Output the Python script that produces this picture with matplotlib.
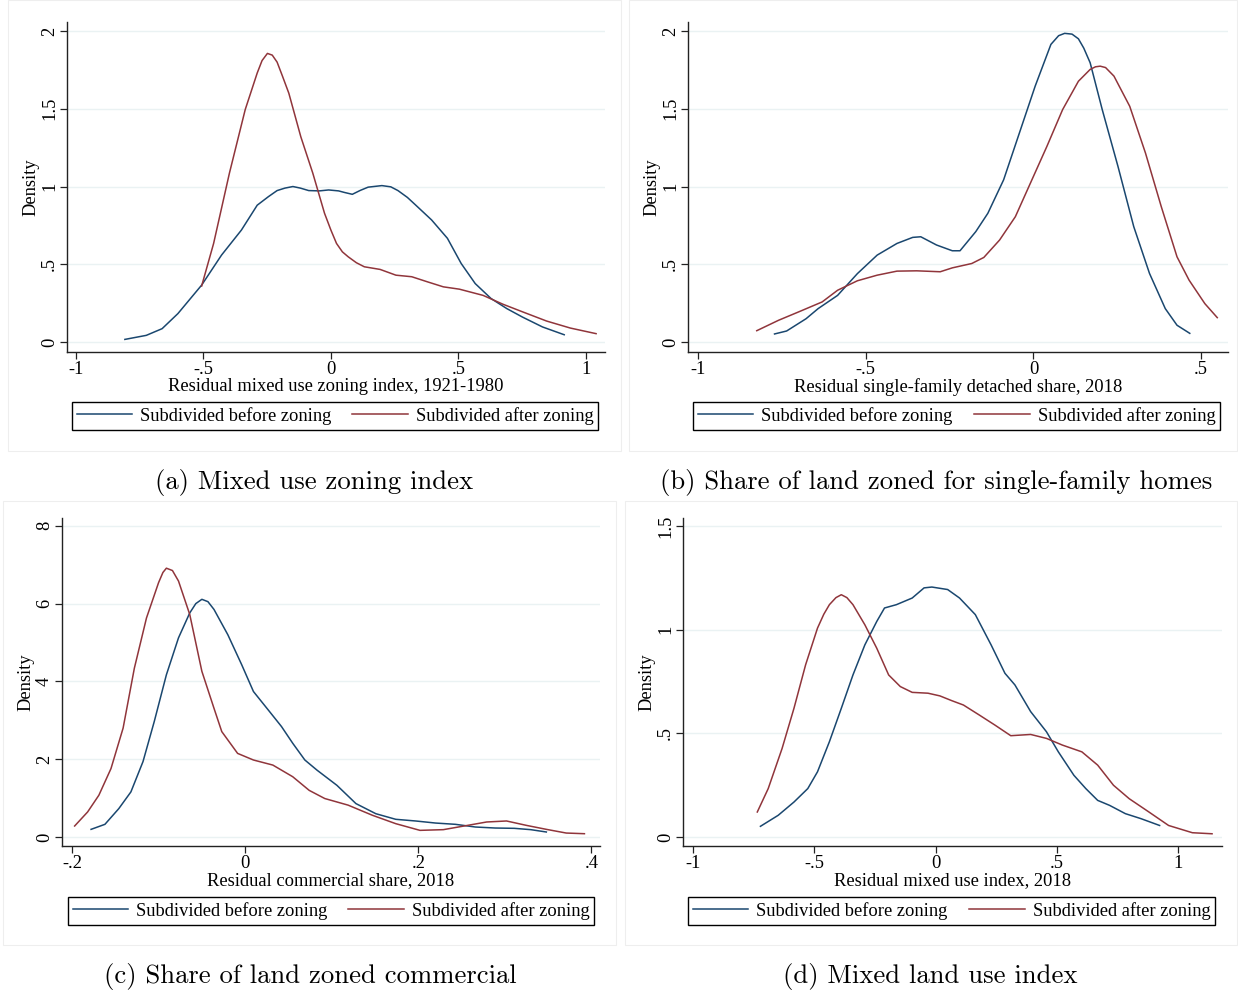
import matplotlib.pyplot as plt
from matplotlib.patches import Rectangle
from matplotlib.lines import Line2D

# kernel density curves, (x, density) pairs per group
a_before_x = [-0.808, -0.724, -0.662, -0.60, -0.507, -0.429, -0.351, -0.289, -0.245, -0.211, -0.18, -0.149,
              -0.12, -0.087, -0.045, -0.009, 0.03, 0.053, 0.084, 0.115, 0.146, 0.20, 0.235, 0.263, 0.30, 0.333,
              0.395, 0.457, 0.511, 0.566, 0.628, 0.69, 0.752, 0.83, 0.915]
a_before_y = [0.017, 0.043, 0.086, 0.183, 0.366, 0.559, 0.72, 0.88, 0.935, 0.974, 0.99, 1.0,
              0.99, 0.974, 0.972, 0.978, 0.972, 0.962, 0.95, 0.975, 0.996, 1.006, 0.998, 0.974, 0.93, 0.88,
              0.785, 0.667, 0.505, 0.376, 0.28, 0.215, 0.16, 0.097, 0.047]
a_after_x = [-0.507, -0.46, -0.398, -0.336, -0.305, -0.289, -0.27, -0.249, -0.23, -0.211, -0.19, -0.165,
             -0.118, -0.071, -0.025, 0.0, 0.022, 0.045, 0.068, 0.10, 0.131, 0.193, 0.255, 0.317, 0.379,
             0.441, 0.504, 0.597, 0.675, 0.752, 0.846, 0.939, 1.04]
a_after_y = [0.36, 0.634, 1.086, 1.495, 1.65, 1.73, 1.81, 1.856, 1.845, 1.80, 1.71, 1.60,
             1.32, 1.086, 0.828, 0.72, 0.634, 0.58, 0.548, 0.51, 0.484, 0.467, 0.43, 0.42, 0.387,
             0.355, 0.34, 0.30, 0.243, 0.194, 0.135, 0.09, 0.054]

b_before_x = [-0.772, -0.736, -0.678, -0.642, -0.584, -0.525, -0.466, -0.407, -0.36, -0.336,
              -0.289, -0.242, -0.219, -0.172, -0.136, -0.089, -0.042, 0.005, 0.052, 0.075, 0.093,
              0.115, 0.134, 0.15, 0.169, 0.205, 0.252, 0.299, 0.346, 0.393, 0.428, 0.466]
b_before_y = [0.052, 0.071, 0.15, 0.215, 0.30, 0.44, 0.559, 0.634, 0.673, 0.677,
              0.624, 0.587, 0.587, 0.71, 0.828, 1.043, 1.344, 1.645, 1.914, 1.97, 1.985,
              1.98, 1.95, 1.89, 1.796, 1.495, 1.129, 0.742, 0.441, 0.215, 0.108, 0.056]
b_after_x = [-0.825, -0.76, -0.70, -0.63, -0.584, -0.525, -0.466, -0.407, -0.348, -0.278,
             -0.242, -0.184, -0.148, -0.101, -0.054, -0.007, 0.04, 0.087, 0.134, 0.169,
             0.185, 0.199, 0.215, 0.24, 0.287, 0.334, 0.381, 0.428, 0.464, 0.511, 0.548]
b_after_y = [0.073, 0.14, 0.194, 0.258, 0.333, 0.394, 0.43, 0.456, 0.458, 0.452,
             0.477, 0.505, 0.544, 0.656, 0.806, 1.032, 1.258, 1.495, 1.677, 1.753,
             1.77, 1.774, 1.765, 1.71, 1.516, 1.215, 0.871, 0.548, 0.398, 0.247, 0.157]

c_before_x = [-0.178, -0.162, -0.146, -0.132, -0.118, -0.105, -0.091, -0.077, -0.064, -0.057, -0.050,
              -0.043, -0.036, -0.020, -0.004, 0.0096, 0.028, 0.042, 0.055, 0.069, 0.083, 0.106,
              0.128, 0.151, 0.174, 0.197, 0.22, 0.243, 0.266, 0.289, 0.311, 0.330, 0.348]
c_before_y = [0.198, 0.327, 0.73, 1.16, 1.94, 2.97, 4.17, 5.12, 5.76, 6.0, 6.11,
              6.05, 5.85, 5.20, 4.43, 3.74, 3.23, 2.84, 2.41, 1.98, 1.72, 1.33,
              0.86, 0.60, 0.456, 0.413, 0.36, 0.327, 0.258, 0.232, 0.224, 0.19, 0.13]
c_after_x = [-0.197, -0.182, -0.169, -0.155, -0.141, -0.128, -0.114, -0.100, -0.095, -0.091, -0.084,
             -0.077, -0.064, -0.050, -0.036, -0.027, -0.0087, 0.0096, 0.032, 0.055, 0.074, 0.092,
             0.119, 0.147, 0.174, 0.202, 0.229, 0.257, 0.279, 0.302, 0.325, 0.348, 0.371, 0.392]
c_after_y = [0.284, 0.645, 1.075, 1.76, 2.80, 4.34, 5.63, 6.54, 6.80, 6.91, 6.85,
             6.58, 5.72, 4.26, 3.31, 2.71, 2.15, 1.98, 1.85, 1.55, 1.20, 0.99,
             0.82, 0.56, 0.344, 0.172, 0.19, 0.30, 0.387, 0.413, 0.30, 0.198, 0.103, 0.086]

d_before_x = [-0.721, -0.648, -0.583, -0.526, -0.486, -0.437, -0.388, -0.340, -0.291, -0.242,
              -0.21, -0.161, -0.096, -0.047, -0.015, 0.05, 0.099, 0.164, 0.229, 0.286,
              0.327, 0.392, 0.457, 0.506, 0.57, 0.619, 0.668, 0.717, 0.782, 0.846, 0.923]
d_before_y = [0.052, 0.105, 0.169, 0.234, 0.315, 0.46, 0.621, 0.782, 0.927, 1.04,
              1.105, 1.121, 1.153, 1.202, 1.206, 1.194, 1.153, 1.073, 0.927, 0.79,
              0.734, 0.605, 0.508, 0.411, 0.298, 0.234, 0.177, 0.153, 0.113, 0.089, 0.056]
d_after_x = [-0.734, -0.689, -0.632, -0.583, -0.535, -0.486, -0.46, -0.437, -0.41, -0.388, -0.365, -0.340,
             -0.291, -0.242, -0.193, -0.145, -0.096, -0.031, 0.018, 0.067, 0.115, 0.18, 0.245,
             0.31, 0.392, 0.457, 0.522, 0.603, 0.668, 0.733, 0.798, 0.879, 0.96, 1.058, 1.139]
d_after_y = [0.121, 0.234, 0.427, 0.621, 0.831, 1.008, 1.075, 1.121, 1.155, 1.169, 1.155, 1.121,
             1.024, 0.911, 0.782, 0.726, 0.698, 0.694, 0.681, 0.658, 0.637, 0.589, 0.54,
             0.489, 0.495, 0.476, 0.444, 0.411, 0.347, 0.25, 0.185, 0.121, 0.056, 0.021, 0.016]

labels = ["Subdivided before zoning", "Subdivided after zoning"]
navy = "#1a476f"
maroon = "#90353b"
grid_col = "#eaf2f3"
serif = "Liberation Serif"
fs = 13.3

W, H = 1238, 994
fig = plt.figure(figsize=(W / 100, H / 100), dpi=100)


def fx(px):
    return px / W


def fy(py):
    return 1 - py / H


def panel(box, frame, before, after, xticks, xtl, yticks, ytl, xlim, ylim,
          xlabel, leg, caption, cap_xy):
    # faint outline of the graph region
    fig.add_artist(Rectangle((fx(frame[0]), fy(frame[3])), fx(frame[2] - frame[0]),
                             (frame[3] - frame[1]) / H, transform=fig.transFigure,
                             fill=False, edgecolor="#eeeeee", lw=0.8))
    l, t, r, b = box
    ax = fig.add_axes([fx(l), fy(b), fx(r - l), (b - t) / H])
    ax.plot(before[0], before[1], color=navy, lw=1.1)
    ax.plot(after[0], after[1], color=maroon, lw=1.1)
    ax.set_xlim(*xlim)
    ax.set_ylim(*ylim)
    ax.set_xticks(xticks, xtl)
    ax.set_yticks(yticks, ytl)
    for y in yticks:
        ax.axhline(y, color=grid_col, lw=1.0, zorder=0)
    for s in ["top", "right"]:
        ax.spines[s].set_visible(False)
    for s in ["left", "bottom"]:
        ax.spines[s].set_color("#222222")
        ax.spines[s].set_linewidth(1.0)
    ax.tick_params(direction="out", length=5, width=0.9, color="#222222",
                   labelsize=fs, pad=1.5)
    for lab in ax.get_xticklabels() + ax.get_yticklabels():
        lab.set_fontfamily(serif)
    for lab in ax.get_yticklabels():
        lab.set_rotation(90)
        lab.set_va("center")
    ax.set_xlabel(xlabel, fontsize=fs, family=serif, labelpad=0)
    ax.set_ylabel("Density", fontsize=fs, family=serif, labelpad=1)
    handles = [Line2D([], [], color=navy, lw=1.1), Line2D([], [], color=maroon, lw=1.1)]
    lg = fig.legend(handles, labels, loc="center", ncol=2, mode="expand",
                    bbox_to_anchor=(fx(leg[0]), fy(leg[3]), fx(leg[2] - leg[0]),
                                    (leg[3] - leg[1]) / H),
                    prop={"family": serif, "size": fs}, frameon=True, fancybox=False,
                    edgecolor="black", framealpha=1, handlelength=3.0,
                    handletextpad=0.43, columnspacing=1.0, borderpad=0.25,
                    borderaxespad=0)
    lg.get_frame().set_linewidth(1.0)
    fig.text(fx(cap_xy[0]), fy(cap_xy[1]), caption, fontsize=19.2, family="cmr10",
             ha="center", va="center")
    return ax


panel((67, 22, 605, 352), (8, 0, 621, 451), (a_before_x, a_before_y), (a_after_x, a_after_y),
      [-1, -0.5, 0, 0.5, 1], ["-1", "-.5", "0", ".5", "1"],
      [0, 0.5, 1, 1.5, 2], ["0", ".5", "1", "1.5", "2"],
      (-1.035, 1.075), (-0.064, 2.058),
      "Residual mixed use zoning index, 1921-1980", (72, 402, 598, 430),
      "(a) Mixed use zoning index", (314, 482))

panel((688, 22, 1228, 352), (629, 0, 1237, 451), (b_before_x, b_before_y), (b_after_x, b_after_y),
      [-1, -0.5, 0, 0.5], ["-1", "-.5", "0", ".5"],
      [0, 0.5, 1, 1.5, 2], ["0", ".5", "1", "1.5", "2"],
      (-1.03, 0.58), (-0.064, 2.058),
      "Residual single-family detached share, 2018", (693, 402, 1220, 430),
      "(b) Share of land zoned for single-family homes", (936, 482))

panel((62, 518, 600, 846), (3, 501, 616, 945), (c_before_x, c_before_y), (c_after_x, c_after_y),
      [-0.2, 0, 0.2, 0.4], ["-.2", "0", ".2", ".4"],
      [0, 2, 4, 6, 8], ["0", "2", "4", "6", "8"],
      (-0.2116, 0.41), (-0.23, 8.2),
      "Residual commercial share, 2018", (68, 897, 594, 925),
      "(c) Share of land zoned commercial", (310, 976))

panel((683, 518, 1222, 846), (625, 501, 1237, 945), (d_before_x, d_before_y), (d_after_x, d_after_y),
      [-1, -0.5, 0, 0.5, 1], ["-1", "-.5", "0", ".5", "1"],
      [0, 0.5, 1, 1.5], ["0", ".5", "1", "1.5"],
      (-1.04, 1.18), (-0.043, 1.539),
      "Residual mixed use index, 2018", (688, 897, 1215, 925),
      "(d) Mixed land use index", (930, 976))

fig.savefig("out.png", dpi=100, facecolor="white")
